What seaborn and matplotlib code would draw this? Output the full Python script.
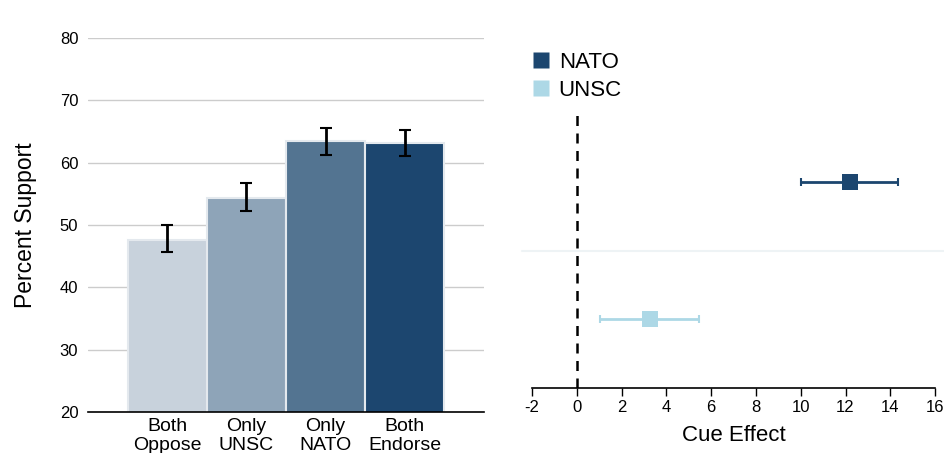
# Import libraries
import pandas as pd
import seaborn as sns
import matplotlib.pyplot as plt

# Bar chart data (left panel)
conditions = ["Both\nOppose", "Only\nUNSC", "Only\nNATO", "Both\nEndorse"]
support = [47.6, 54.4, 63.4, 63.1]
support_lo = [45.6, 52.3, 61.3, 61.0]
support_hi = [50.0, 56.7, 65.6, 65.3]
bar_colors = ["#c8d2dc", "#8ea4b8", "#537491", "#1c466f"]

# Cue effect data (right panel)
cues = ["NATO", "UNSC"]
cue_pos = [1, 0]
effect = [12.2, 3.25]
effect_lo = [10.0, 1.05]
effect_hi = [14.35, 5.45]
cue_colors = ["#1c466f", "#add8e6"]

sns.set_style("white")
plt.rcParams["font.family"] = ["Liberation Sans", "DejaVu Sans"]
plt.rcParams["axes.unicode_minus"] = False
plt.rcParams["text.color"] = "black"
plt.rcParams["axes.labelcolor"] = "black"
plt.rcParams["xtick.color"] = "black"
plt.rcParams["ytick.color"] = "black"

fig = plt.figure(figsize=(9.45, 4.53), dpi=100)
ax1 = fig.add_axes([0.0931, 0.0905, 0.419, 0.8256])
ax2 = fig.add_axes([0.563, 0.1435, 0.4265, 0.607])

# Left: bars with error bars
df = pd.DataFrame({"condition": conditions, "support": support})
sns.barplot(data=df, x="condition", y="support", hue="condition",
            palette=bar_colors, saturation=1, width=1.0, edgecolor="#e4e9ee",
            linewidth=1.5, legend=False, ax=ax1, zorder=2)
yerr = [[s - l for s, l in zip(support, support_lo)],
        [h - s for s, h in zip(support, support_hi)]]
ax1.errorbar(range(len(conditions)), support, yerr=yerr, fmt="none",
             ecolor="black", elinewidth=2, capsize=4.5, capthick=1.5, zorder=3)
ax1.set_ylim(20, 80)
ax1.set_xlim(-1, 4)
ax1.set_yticks(range(20, 81, 10))
ax1.yaxis.grid(True, color="#cccccc", linewidth=1)
ax1.set_axisbelow(True)
for s in ["top", "right", "left"]:
    ax1.spines[s].set_visible(False)
ax1.spines["bottom"].set_color("black")
ax1.spines["bottom"].set_linewidth(1.2)
ax1.tick_params(axis="y", length=0, labelsize=12, pad=7)
ax1.tick_params(axis="x", length=0, labelsize=14, pad=4)
ax1.set_xlabel("")
ax1.set_ylabel("Percent Support", fontsize=16.5, labelpad=16)

# Right: cue effects
ax2.axvline(0, color="black", linestyle=(0, (4, 3)), linewidth=1.8, zorder=1)
ax2.axhline(0.5, xmin=-0.025, xmax=1.025, color="#eef3f5", linewidth=1.5,
            clip_on=False, zorder=0)
for y, m, lo, hi, c in zip(cue_pos, effect, effect_lo, effect_hi, cue_colors):
    ax2.errorbar([m], [y], xerr=[[m - lo], [hi - m]], fmt="none", ecolor=c,
                 elinewidth=2, capsize=3, capthick=1.5, zorder=2)
cdf = pd.DataFrame({"cue": cues, "effect": effect, "pos": cue_pos})
sns.scatterplot(data=cdf, x="effect", y="pos", hue="cue", palette=cue_colors,
                marker="s", s=135, edgecolor="none", ax=ax2, zorder=3)
ax2.set_xlim(-2, 16)
ax2.set_ylim(-0.5, 1.5)
ax2.set_xticks(range(-2, 17, 2))
ax2.set_yticks([])
for s in ["top", "right", "left"]:
    ax2.spines[s].set_visible(False)
ax2.spines["bottom"].set_color("black")
ax2.spines["bottom"].set_linewidth(1.2)
ax2.tick_params(axis="x", bottom=True, direction="out", length=6, width=1,
                color="black", labelsize=12, pad=3)
ax2.set_xlabel("Cue Effect", fontsize=16, labelpad=7)
ax2.set_ylabel("")
leg = ax2.legend(loc="upper left", bbox_to_anchor=(0.563, 0.885),
                 bbox_transform=fig.transFigure, frameon=False, fontsize=16,
                 borderpad=0, borderaxespad=0, handlelength=0.8,
                 handletextpad=0.4, labelspacing=0.3, markerscale=1.0)

fig.savefig("out.png", dpi=100)
